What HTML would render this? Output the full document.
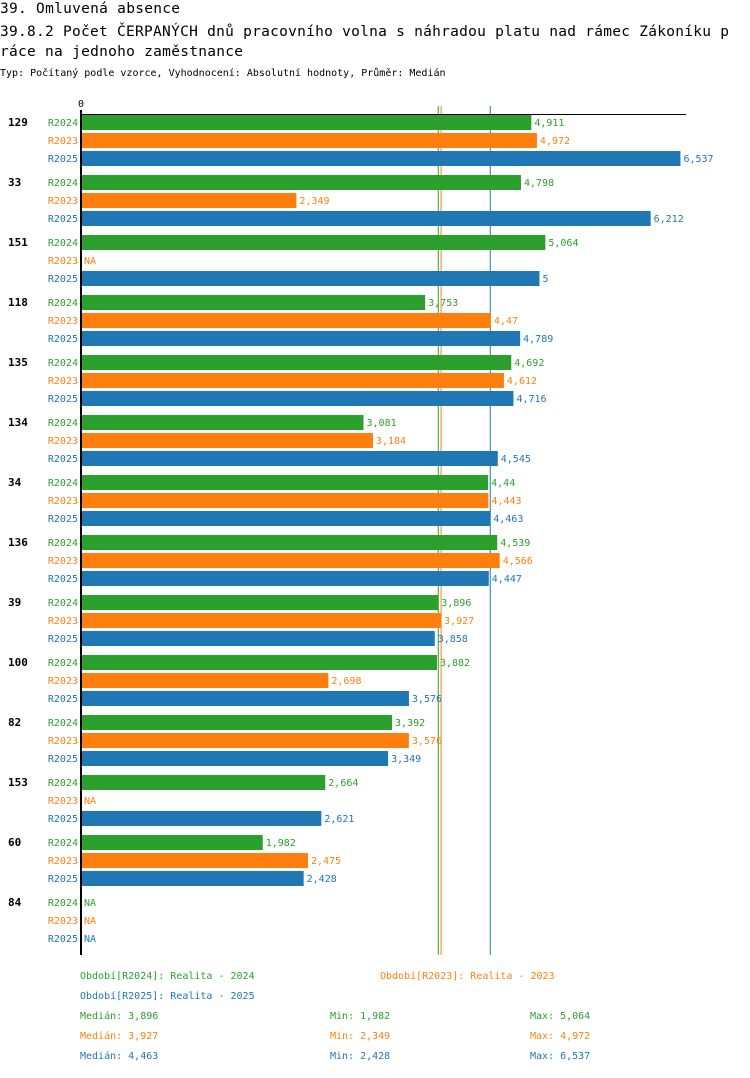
<!DOCTYPE html>
<html><head><meta charset="utf-8"><style>
body{margin:0;background:#fff;font-family:"DejaVu Sans Mono","Liberation Mono",monospace;}
svg text{font-family:"DejaVu Sans Mono","Liberation Mono",monospace;}
</style></head><body>
<svg width="750" height="1074" xmlns="http://www.w3.org/2000/svg">
<text x="0" y="13" font-size="14.5" textLength="180">39. Omluvená absence</text>
<text x="0" y="36" font-size="14.5" textLength="729">39.8.2 Počet ČERPANÝCH dnů pracovního volna s náhradou platu nad rámec Zákoníku p</text>
<text x="0" y="56" font-size="14.5" textLength="243">ráce na jednoho zaměstnance</text>
<text x="0" y="76" font-size="10">Typ: Počítaný podle vzorce, Vyhodnocení: Absolutní hodnoty, Průměr: Medián</text>
<g id="plot"></g>
<text x="80" y="979" font-size="10" fill="#2ca02c">Období[R2024]: Realita - 2024</text>
<text x="380" y="979" font-size="10" fill="#ff7f0e">Období[R2023]: Realita - 2023</text>
<text x="80" y="999" font-size="10" fill="#1f77b4">Období[R2025]: Realita - 2025</text>
<g id="stats"></g>
</svg>
<script>
const categories=["129","33","151","118","135","134","34","136","39","100","82","153","60","84"];
const v2024=[4.911,4.798,5.064,3.753,4.692,3.081,4.44,4.539,3.896,3.882,3.392,2.664,1.982,null];
const v2023=[4.972,2.349,null,4.47,4.612,3.184,4.443,4.566,3.927,2.698,3.576,null,2.475,null];
const v2025=[6.537,6.212,5,4.789,4.716,4.545,4.463,4.447,3.858,3.576,3.349,2.621,2.428,null];
const labels2024=["4,911","4,798","5,064","3,753","4,692","3,081","4,44","4,539","3,896","3,882","3,392","2,664","1,982","NA"];
const labels2023=["4,972","2,349","NA","4,47","4,612","3,184","4,443","4,566","3,927","2,698","3,576","NA","2,475","NA"];
const labels2025=["6,537","6,212","5","4,789","4,716","4,545","4,463","4,447","3,858","3,576","3,349","2,621","2,428","NA"];
const medians=[3.896,3.927,4.463];
const mins=["1,982","2,349","2,428"];
const maxs=["5,064","4,972","6,537"];
const medLabels=["3,896","3,927","4,463"];
const NS="http://www.w3.org/2000/svg";
const g=document.getElementById('plot');
const X=v=>81+v*91.7;
const colors=["#2ca02c","#ff7f0e","#1f77b4"];
const series=[v2024,v2023,v2025],slabels=[labels2024,labels2023,labels2025],snames=["R2024","R2023","R2025"];
function mk(tag,attrs,parent){const e=document.createElementNS(NS,tag);for(const k in attrs)e.setAttribute(k,attrs[k]);(parent||g).appendChild(e);return e;}
medians.forEach((m,j)=>{
 const ln=mk('line',{x1:X(m),x2:X(m),y1:106,y2:955,stroke:colors[j],'stroke-width':1});
 
 
});
categories.forEach((c,i)=>{
 const gy=115+i*60;
 const t=mk('text',{x:8,y:gy+11,'font-size':11,'font-weight':'bold'});t.textContent=c;
 
 
 series.forEach((s,j)=>{
  const y=gy+j*18;
  const l=mk('text',{x:78,y:y+11,'font-size':10,fill:colors[j],'text-anchor':'end'});l.textContent=snames[j];
  
  
  let end=X(0);
  if(s[i]!=null){
   const r=mk('rect',{x:X(0),y:y,width:X(s[i])-X(0),height:15,fill:colors[j]});
   
   
   end=X(s[i]);
  }
  const v=mk('text',{x:end+3,y:y+11,'font-size':10,fill:colors[j]});v.textContent=slabels[j][i];
  
  
 });
});
const ax=mk('line',{x1:80,x2:686,y1:114.5,y2:114.5,stroke:'#000','stroke-width':1});


const ay=mk('line',{x1:81,x2:81,y1:110,y2:955,stroke:'#000','stroke-width':2});


const z=mk('text',{x:81,y:107,'font-size':10,'text-anchor':'middle'});z.textContent="0";


const st=document.getElementById('stats');
medians.forEach((m,j)=>{
 const y=1019+j*20;
 [[80,"Medián: "+medLabels[j]],[330,"Min: "+mins[j]],[530,"Max: "+maxs[j]]].forEach(([x,s])=>{
  const t=mk('text',{x:x,y:y,'font-size':10,fill:colors[j]},st);t.textContent=s;
  
  
 });
});
</script>
</body></html>
